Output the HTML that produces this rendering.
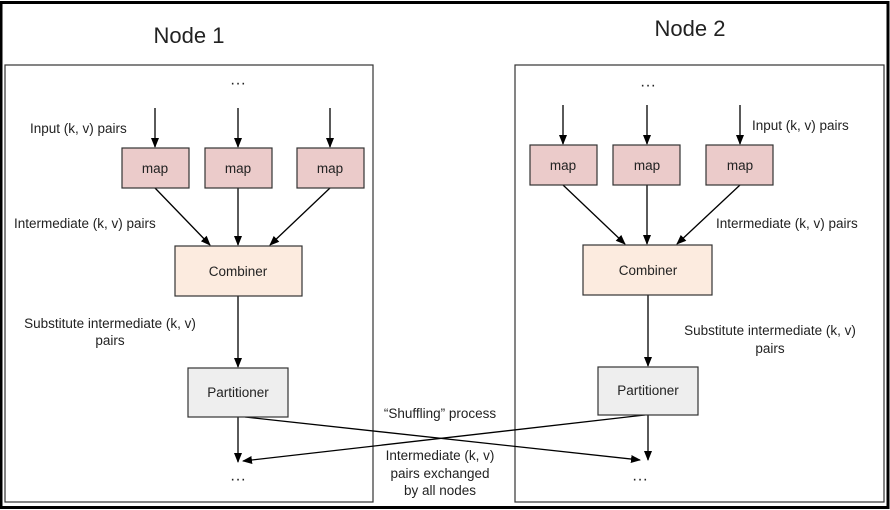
<!DOCTYPE html>
<html><head><meta charset="utf-8"><style>
html,body{margin:0;padding:0;background:#fff;width:890px;height:510px;overflow:hidden}
text{font-family:"Liberation Sans",sans-serif;fill:#222}
</style></head><body>
<svg width="890" height="510" viewBox="0 0 890 510" xmlns="http://www.w3.org/2000/svg">
<defs><marker id="a" markerWidth="10" markerHeight="10" refX="9" refY="5" orient="auto" markerUnits="userSpaceOnUse"><path d="M0,1 L10,5 L0,9 z" fill="#000"/></marker></defs>
<rect x="1" y="2.5" width="887" height="505" fill="none" stroke="#000" stroke-width="3"/>
<text x="189" y="43" font-size="22" text-anchor="middle">Node 1</text>
<text x="690" y="36" font-size="22" text-anchor="middle">Node 2</text>
<rect x="5" y="65" width="368" height="437" fill="none" stroke="#333" stroke-width="1.2"/>
<rect x="515" y="65" width="369" height="437" fill="none" stroke="#333" stroke-width="1.2"/>
<g font-size="16" text-anchor="middle"><text x="238" y="88">···</text><text x="648" y="90">···</text><text x="238" y="484">···</text><text x="640" y="484">···</text></g>
<g stroke="#000" stroke-width="1.3" marker-end="url(#a)">
<line x1="155" y1="108" x2="155" y2="147"/><line x1="238" y1="108" x2="238" y2="147"/><line x1="330" y1="108" x2="330" y2="147"/>
<line x1="155" y1="188" x2="210" y2="245"/><line x1="238" y1="188" x2="238" y2="245"/><line x1="330" y1="188" x2="270" y2="245"/>
<line x1="238" y1="296" x2="238" y2="367"/><line x1="238" y1="417" x2="238" y2="462"/>
<line x1="563" y1="105" x2="563" y2="144"/><line x1="647" y1="105" x2="647" y2="144"/><line x1="740" y1="105" x2="740" y2="144"/>
<line x1="563" y1="185" x2="625" y2="244"/><line x1="647" y1="185" x2="647" y2="244"/><line x1="740" y1="185" x2="677" y2="244"/>
<line x1="648" y1="295" x2="648" y2="366"/><line x1="648" y1="415" x2="648" y2="460"/>
<line x1="245" y1="417" x2="640" y2="460"/><line x1="645" y1="415" x2="243" y2="461"/>
</g>
<g stroke="#333" stroke-width="1.2" fill="#ebcbca">
<rect x="122" y="148" width="67" height="40"/><rect x="205" y="148" width="67" height="40"/><rect x="297" y="148" width="67" height="40"/>
<rect x="530" y="145" width="67" height="40"/><rect x="613" y="145" width="67" height="40"/><rect x="706" y="145" width="67" height="40"/>
</g>
<rect x="175" y="246" width="127" height="50" fill="#fcebdf" stroke="#333" stroke-width="1.2"/>
<rect x="583" y="245" width="129" height="50" fill="#fcebdf" stroke="#333" stroke-width="1.2"/>
<rect x="188" y="368" width="100" height="49" fill="#eeeeee" stroke="#333" stroke-width="1.2"/>
<rect x="598" y="367" width="100" height="48" fill="#eeeeee" stroke="#333" stroke-width="1.2"/>
<g font-size="13.5" text-anchor="middle">
<text x="155" y="173">map</text><text x="238" y="173">map</text><text x="330" y="173">map</text>
<text x="563" y="170">map</text><text x="647" y="170">map</text><text x="740" y="170">map</text>
<text x="238" y="276">Combiner</text><text x="648" y="275">Combiner</text>
<text x="238" y="397">Partitioner</text><text x="648" y="395">Partitioner</text>
<text x="110" y="328">Substitute intermediate (k, v)</text><text x="110" y="345">pairs</text>
<text x="770" y="335">Substitute intermediate (k, v)</text><text x="770" y="353">pairs</text>
<text x="440" y="418">“Shuffling” process</text>
<text x="440" y="460">Intermediate (k, v)</text><text x="440" y="478">pairs exchanged</text><text x="440" y="495">by all nodes</text>
</g>
<g font-size="13.5">
<text x="30" y="133">Input (k, v) pairs</text><text x="752" y="130">Input (k, v) pairs</text>
<text x="14" y="228">Intermediate (k, v) pairs</text><text x="716" y="228">Intermediate (k, v) pairs</text>
</g>
</svg>
</body></html>
